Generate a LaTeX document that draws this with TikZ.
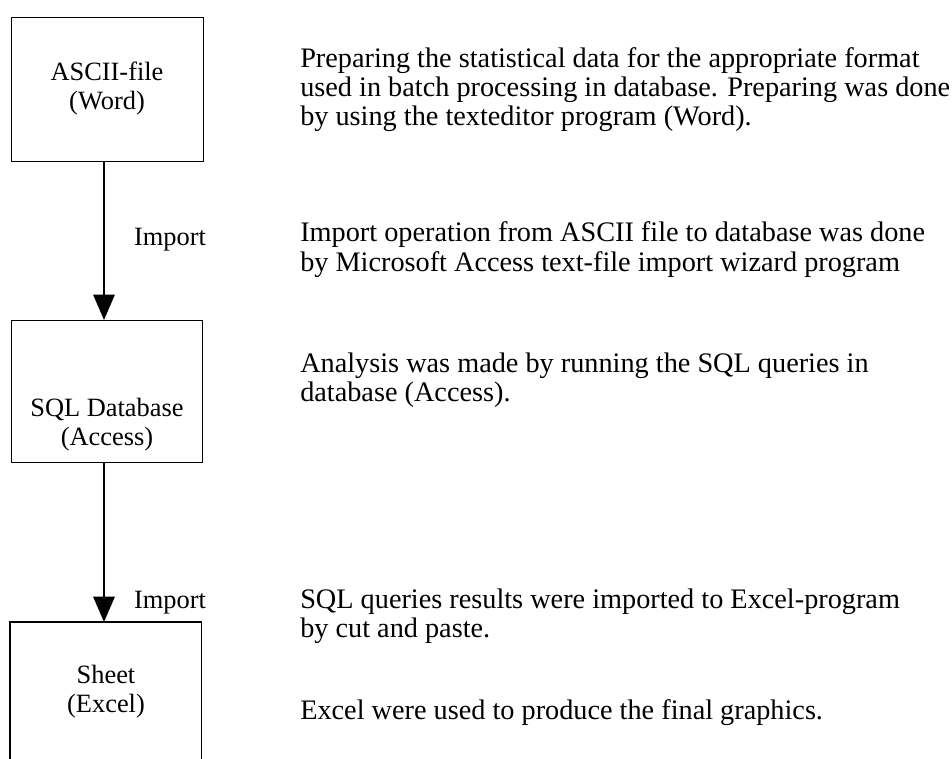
\documentclass[tikz,border=0pt]{standalone}
\usepackage{fontspec}
\setmainfont{Liberation Serif}
\usetikzlibrary{arrows.meta}
\tikzset{
  box/.style={draw=black, line width=0.8pt, inner sep=0pt, align=center},
  arr/.style={line width=1.5pt, -{Triangle[length=19pt,width=16pt]}},
  txt/.style={anchor=base west, inner sep=0pt, align=left, font=\fontsize{21.2}{25}\selectfont},
  lbl/.style={anchor=base, inner sep=0pt, font=\fontsize{19.8}{23}\selectfont}
}
\begin{document}
\begin{tikzpicture}[x=0.75pt,y=-0.75pt]
\useasboundingbox[fill=white] (0,0) rectangle (952,758);
% boxes
\node[box, minimum width=144pt, minimum height=108pt, anchor=north west] (b1) at (11,17) {};
\node[box, minimum width=143pt, minimum height=106.5pt, anchor=north west] (b2) at (11,320) {};
\node[inner sep=0pt, minimum width=143pt, minimum height=102pt, anchor=north west] (b3) at (10,622) {};
\draw[line width=0.8pt] (b3.south west) -- (b3.north west) -- (b3.north east) -- (b3.south east);
% box texts
\node[lbl] (t1a) at (107,80) {ASCII-file};
\node[lbl] (t1b) at (107,109) {(Word)};
\node[lbl] (t2a) at (107,416) {SQL Database};
\node[lbl] (t2b) at (107,445) {(Access)};
\node[lbl] (t3a) at (106,683) {Sheet};
\node[lbl] (t3b) at (106,712) {(Excel)};
% arrows
\coordinate (ax) at (104,0);
\draw[arr] (b1.south -| ax) -- (b2.north -| ax);
\draw[arr] (b2.south -| ax) -- (b3.north -| ax);
\node[lbl] (i1) at (170,245) {Import};
\node[lbl] (i2) at (170,608) {Import};
% descriptions
\node[txt] (d1a) at (300,67) {Preparing the statistical data for the appropriate format};
\node[txt] (d1b) at (300,96) {used in batch processing in database. Preparing was done};
\node[txt] (d1c) at (300,125) {by using the texteditor program (Word).};
\node[txt] (d2a) at (300,241) {Import operation from ASCII file to database was done};
\node[txt] (d2b) at (300,271) {by Microsoft Access text-file import wizard program};
\node[txt] (d3a) at (300,372) {Analysis was made by running the SQL queries in};
\node[txt] (d3b) at (300,401) {database (Access).};
\node[txt] (d4a) at (300,608) {SQL queries results were imported to Excel-program};
\node[txt] (d4b) at (300,637) {by cut and paste.};
\node[txt] (d5a) at (300,719) {Excel were used to produce the final graphics.};
\end{tikzpicture}
\end{document}
